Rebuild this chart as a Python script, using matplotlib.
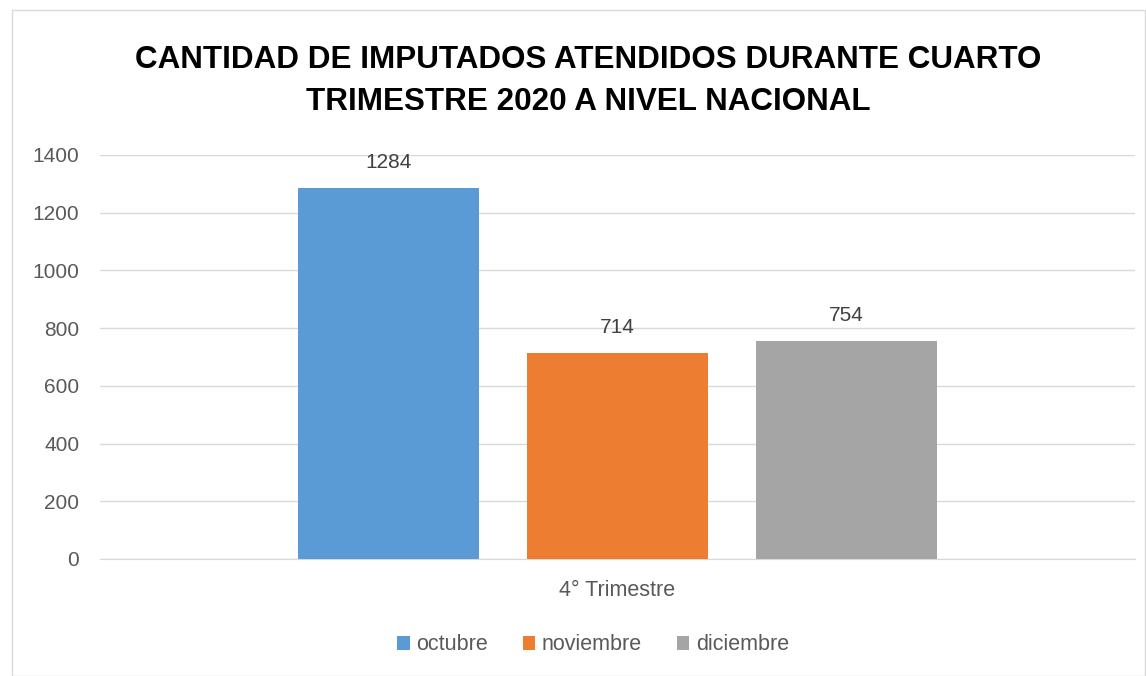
import matplotlib
matplotlib.use("Agg")
import matplotlib.pyplot as plt
from matplotlib.patches import Rectangle, Patch

categories = ["4° Trimestre"]
series = ["octubre", "noviembre", "diciembre"]
values = [1284, 714, 754]
colors = ["#5B9BD5", "#ED7D31", "#A5A5A5"]
yticks = [0, 200, 400, 600, 800, 1000, 1200, 1400]
title = "CANTIDAD DE IMPUTADOS ATENDIDOS DURANTE CUARTO\nTRIMESTRE 2020 A NIVEL NACIONAL"

plt.rcParams['font.family'] = ['Liberation Sans', 'DejaVu Sans']

fig = plt.figure(figsize=(11.46, 6.76), dpi=100)
fig.patches.append(Rectangle((12/1146, 0), 1 - 12/1146 - 0.001, 1 - 10/676,
                             transform=fig.transFigure, fill=False,
                             edgecolor="#D9D9D9", linewidth=1.0))
ax = fig.add_axes([100/1146, 1 - 559/676, 1035/1146, 404/676])

offsets = [-1, 0, 1]
bw = 181/229
for off, s, v, c in zip(offsets, series, values, colors):
    ax.bar(off, v, width=bw, color=c, label=s, zorder=3)
    ax.text(off, v + 56, str(v), ha="center", va="bottom", fontsize=15, color="#404040")

ax.set_xlim(-2.26, 2.26)
ax.set_ylim(0, 1400)
ax.set_yticks(yticks)
ax.set_yticklabels([str(t) for t in yticks], fontsize=15, color="#595959")
ax.set_xticks([0])
ax.set_xticklabels(categories, fontsize=15.5, color="#595959")
ax.tick_params(axis="both", length=0)
ax.tick_params(axis="y", pad=15)
ax.tick_params(axis="x", pad=15)
ax.grid(axis="y", color="#D9D9D9", linewidth=1.0, zorder=0)
for sp in ["top", "right", "left"]:
    ax.spines[sp].set_visible(False)
ax.spines["bottom"].set_color("#D9D9D9")

fig.text(588/1146, 1 - 81/676, title, ha="center", va="center", fontsize=22.6,
         fontweight="bold", color="#000000", linespacing=1.55)

handles = [Patch(facecolor=c, edgecolor="none") for c in colors]
fig.legend(handles, series, loc="center", bbox_to_anchor=(593/1146, 1 - 645/676),
           ncol=3, frameon=False, fontsize=15.5, handlelength=0.6, handleheight=0.6,
           columnspacing=1.6, handletextpad=0.3, labelcolor="#595959")

fig.savefig("out.png", dpi=100)
